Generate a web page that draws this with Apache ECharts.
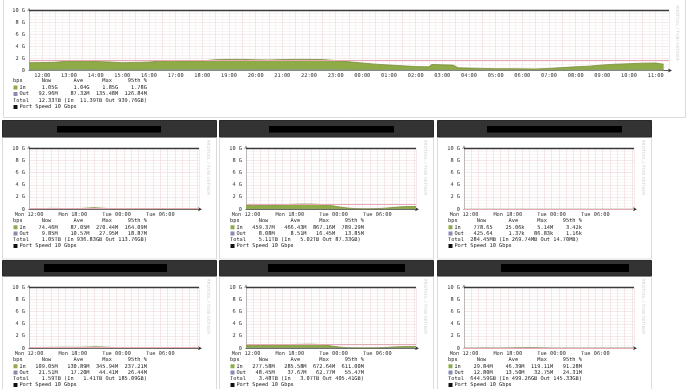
<!DOCTYPE html>
<html><head><meta charset="utf-8">
<script src="https://cdn.jsdelivr.net/npm/echarts@6/dist/echarts.min.js"></script>
<style>html,body{margin:0;padding:0;background:#fff}#c{width:690px;height:389px}</style>
</head><body><div id="c"></div>
<script>
// ---------- DATA ----------
const yTickLabels = ['0', '2 G', '4 G', '6 G', '8 G', '10 G'];
const bigTickHours = [12,13,14,15,16,17,18,19,20,21,22,23,24,25,26,27,28,29,30,31,32,33,34,35];
const smallTickHours = [12, 18, 24, 30];
const smallTickLabels = ['Mon 12:00', 'Mon 18:00', 'Tue 00:00', 'Tue 06:00'];

const bigHours = [11.5,12,12.5,13,13.5,14,14.5,15,15.5,16,16.5,17,17.5,18,18.5,19,19.5,20,20.5,21,21.5,22,22.5,23,23.5,24,24.5,25,25.5,26,26.5,26.6,27,27.4,27.6,28,28.5,29,29.5,30,30.5,31,31.5,32,32.5,33,33.5,34,34.5,35,35.3];
const bigIn = [1.30,1.32,1.37,1.60,1.60,1.50,1.42,1.30,1.35,1.40,1.60,1.65,1.60,1.60,1.80,1.85,1.85,1.78,1.75,1.82,1.85,1.85,1.82,1.65,1.45,1.25,1.05,0.92,0.78,0.65,0.62,1.00,0.95,0.90,0.45,0.40,0.35,0.30,0.30,0.28,0.25,0.35,0.48,0.62,0.72,0.92,1.05,1.13,1.22,1.25,1.05];
const bigOut = [0.09,0.09,0.10,0.11,0.11,0.10,0.10,0.09,0.09,0.10,0.11,0.12,0.11,0.11,0.12,0.13,0.13,0.12,0.12,0.12,0.13,0.13,0.12,0.11,0.10,0.09,0.08,0.08,0.07,0.07,0.07,0.08,0.08,0.08,0.06,0.05,0.05,0.05,0.05,0.05,0.05,0.05,0.06,0.07,0.07,0.08,0.09,0.09,0.10,0.10,0.09];
const bigInStats = ['1.05G', '1.04G', '1.85G', '1.78G'];
const bigOutStats = ['92.96M', '87.32M', '135.48M', '126.84M'];
const bigTotals = ['12.33TB', '11.39TB', '939.76GB'];
const bigP95 = 1.78;

const smallHours = [12,13,14,15,16,17,18,19,20,21,22,23,24,25,26,27,28,29,30,31,32,33,34,35,35.3];

const p1In  = [0.09,0.10,0.12,0.15,0.14,0.12,0.10,0.13,0.20,0.27,0.18,0.12,0.08,0.06,0.05,0.04,0.04,0.05,0.06,0.07,0.08,0.09,0.08,0.075,0.074];
const p1Out = [0.010,0.011,0.012,0.013,0.012,0.011,0.011,0.012,0.015,0.028,0.016,0.012,0.009,0.008,0.007,0.007,0.007,0.008,0.009,0.010,0.011,0.010,0.010,0.010,0.010];
const p1InStats = ['74.46M', '87.05M', '270.44M', '164.09M'];
const p1OutStats = ['9.85M', '10.57M', '27.95M', '18.87M'];
const p1Totals = ['1.05TB', '936.83GB', '113.76GB'];
const p1P95 = 0.164;

const p2In  = [0.62,0.60,0.63,0.66,0.70,0.75,0.80,0.84,0.86,0.85,0.80,0.72,0.55,0.35,0.20,0.12,0.10,0.10,0.12,0.18,0.28,0.38,0.45,0.46,0.46];
const p2Out = [0.008,0.008,0.009,0.009,0.010,0.011,0.012,0.014,0.016,0.015,0.012,0.010,0.008,0.007,0.006,0.006,0.006,0.006,0.007,0.007,0.008,0.008,0.008,0.008,0.008];
const p2InStats = ['459.37M', '466.43M', '867.16M', '789.29M'];
const p2OutStats = ['8.08M', '8.51M', '16.45M', '13.85M'];
const p2Totals = ['5.11TB', '5.02TB', '87.33GB'];
const p2P95 = 0.789;

const p3In  = [0.00002,0.00002,0.00003,0.00002,0.00002,0.00003,0.00002,0.00002,0.0051,0.00003,0.00002,0.00002,0.00002,0.00001,0.00001,0.00001,0.00001,0.00001,0.00001,0.00002,0.00002,0.00002,0.00001,0.000001,0.000001];
const p3Out = [0.000001,0.000001,0.000002,0.000001,0.000001,0.000002,0.000001,0.000001,0.00008,0.000002,0.000001,0.000001,0.000001,0.000001,0.000001,0.000001,0.000001,0.000001,0.000001,0.000001,0.000001,0.000001,0.000001,0.0000004,0.0000004];
const p3InStats = ['778.65', '25.06k', '5.14M', '3.42k'];
const p3OutStats = ['425.64', '1.37k', '86.83k', '1.16k'];
const p3Totals = ['284.45MB', '269.74MB', '14.70MB'];
const p3P95 = 0.0000034;

const p4In  = [0.12,0.13,0.14,0.15,0.16,0.17,0.16,0.17,0.20,0.24,0.22,0.16,0.11,0.08,0.07,0.06,0.07,0.08,0.09,0.10,0.11,0.12,0.11,0.11,0.109];
const p4Out = [0.018,0.019,0.020,0.021,0.022,0.024,0.022,0.023,0.026,0.030,0.028,0.020,0.014,0.011,0.010,0.010,0.011,0.012,0.014,0.016,0.018,0.020,0.021,0.021,0.021];
const p4InStats = ['109.05M', '130.89M', '345.94M', '237.21M'];
const p4OutStats = ['21.51M', '17.20M', '44.41M', '26.44M'];
const p4Totals = ['1.59TB', '1.41TB', '185.09GB'];
const p4P95 = 0.237;

const p5In  = [0.45,0.44,0.46,0.50,0.52,0.55,0.60,0.64,0.66,0.67,0.62,0.50,0.32,0.18,0.10,0.08,0.07,0.07,0.09,0.13,0.20,0.26,0.28,0.28,0.278];
const p5Out = [0.040,0.040,0.042,0.045,0.048,0.050,0.053,0.056,0.058,0.060,0.055,0.045,0.033,0.025,0.020,0.018,0.018,0.019,0.022,0.027,0.035,0.042,0.047,0.048,0.048];
const p5InStats = ['277.58M', '285.58M', '672.64M', '611.00M'];
const p5OutStats = ['48.45M', '37.67M', '62.77M', '55.47M'];
const p5Totals = ['3.48TB', '3.07TB', '405.41GB'];
const p5P95 = 0.611;

const p6In  = [0.04,0.04,0.05,0.06,0.05,0.05,0.06,0.07,0.09,0.11,0.08,0.06,0.04,0.03,0.03,0.03,0.03,0.03,0.03,0.03,0.03,0.03,0.03,0.03,0.03];
const p6Out = [0.012,0.012,0.013,0.015,0.014,0.014,0.015,0.016,0.020,0.030,0.018,0.014,0.012,0.011,0.011,0.011,0.011,0.011,0.012,0.012,0.012,0.013,0.013,0.013,0.013];
const p6InStats = ['29.84M', '46.39M', '119.11M', '91.28M'];
const p6OutStats = ['12.80M', '13.50M', '32.75M', '24.31M'];
const p6Totals = ['644.59GB', '499.26GB', '145.33GB'];
const p6P95 = 0.0913;

// ---------- LAYOUT / STYLE ----------
const MONO = 'DejaVu Sans Mono';
const FS = 5.3;
const GREEN = '#8fab48', GREEN_EDGE = '#7c8a3a', OUTC = '#8a8ab4', PINK = '#e6a9b6';

const panels = [
  {px: 2,   row: 0, hours: smallHours, inD: p1In, outD: p1Out, inS: p1InStats, outS: p1OutStats, tot: p1Totals, p95: p1P95, red: [57, 161]},
  {px: 219, row: 0, hours: smallHours, inD: p2In, outD: p2Out, inS: p2InStats, outS: p2OutStats, tot: p2Totals, p95: p2P95, red: [269, 394]},
  {px: 437, row: 0, hours: smallHours, inD: p3In, outD: p3Out, inS: p3InStats, outS: p3OutStats, tot: p3Totals, p95: p3P95, red: [487, 622]},
  {px: 2,   row: 1, hours: smallHours, inD: p4In, outD: p4Out, inS: p4InStats, outS: p4OutStats, tot: p4Totals, p95: p4P95, red: [44, 167]},
  {px: 219, row: 1, hours: smallHours, inD: p5In, outD: p5Out, inS: p5InStats, outS: p5OutStats, tot: p5Totals, p95: p5P95, red: [268, 405]},
  {px: 437, row: 1, hours: smallHours, inD: p6In, outD: p6Out, inS: p6InStats, outS: p6OutStats, tot: p6Totals, p95: p6P95, red: [501, 629]}
];
const rowHeaderY = [120.5, 260.5], rowHeaderH = [16.5, 15.5];
const rowRedY = [126, 264], rowRedH = [6.5, 8];
const rowGridTop = [148.3, 287.3];
const rowLegendY = [221, 360];

function pairs(h, v) { return h.map((x, i) => [x, v[i]]); }
function pad2(n) { return String(n).padStart(2, '0'); }

function headerLine() { return 'bps      Now       Ave      Max     95th %'; }
function statLine(label, s) {
  return '  ' + label.padEnd(3) + s[0].padStart(9) + s[1].padStart(10) + s[2].padStart(9) + s[3].padStart(9);
}
function totalLine(t) {
  return 'Total' + t[0].padStart(10) + ' (In' + t[1].padStart(9) + ' Out ' + t[2] + ')';
}

const grids = [], xAxes = [], yAxes = [], series = [], graphics = [];

function splitY() {
  return {
    type: 'value', min: 0, max: 10, interval: 2,
    axisLabel: {fontFamily: MONO, fontSize: FS, color: '#333', margin: 4,
      formatter: v => yTickLabels[Math.round(v / 2)]},
    axisTick: {show: false},
    axisLine: {show: true, lineStyle: {color: '#999', width: 0.6}, symbol: ['none', 'arrow'], symbolSize: [3, 4], symbolOffset: [0, 3]},
    splitLine: {show: true, lineStyle: {color: '#efd8dc', width: 0.6}},
    minorTick: {show: false, splitNumber: 4},
    minorSplitLine: {show: true, lineStyle: {color: '#f3eaea', width: 0.5}}
  };
}

function addGraph(gi, grid, xMin, xMax, xInterval, xMinorSplit, tickVals, fmt, hours, inD, outD, p95) {
  grids.push(grid);
  xAxes.push({
    type: 'value', gridIndex: gi, min: xMin, max: xMax, interval: xInterval,
    axisLabel: {customValues: tickVals, formatter: fmt, fontFamily: MONO, fontSize: FS, color: '#333', margin: 3, hideOverlap: false},
    axisTick: {show: false},
    axisLine: {show: true, lineStyle: {color: '#333', width: 0.8}, symbol: ['none', 'arrow'], symbolSize: [3, 4], symbolOffset: [0, 3]},
    splitLine: {show: true, lineStyle: {color: '#efd8dc', width: 0.6}},
    minorTick: {show: false, splitNumber: xMinorSplit},
    minorSplitLine: {show: xMinorSplit > 1, lineStyle: {color: '#f3eaea', width: 0.5}}
  });
  const y = splitY(); y.gridIndex = gi; yAxes.push(y);
  series.push({
    type: 'line', xAxisIndex: gi, yAxisIndex: gi, data: pairs(hours, inD), symbol: 'none',
    lineStyle: {color: GREEN_EDGE, width: 0.8}, areaStyle: {color: GREEN, opacity: 1}, z: 3,
    markLine: {silent: true, symbol: 'none', label: {show: false}, animation: false,
      data: [
        {yAxis: p95, lineStyle: {color: PINK, width: 1.1, type: 'solid'}},
        {yAxis: 10, lineStyle: {color: '#3a3a3a', width: 1.3, type: 'solid'}}
      ]}
  });
  series.push({
    type: 'line', xAxisIndex: gi, yAxisIndex: gi, data: pairs(hours, outD), symbol: 'none',
    lineStyle: {color: OUTC, width: 0.5}, areaStyle: {color: '#a0a0c8', opacity: 1}, z: 4
  });
}

function addLegend(x, y0, dy, inS, outS, tot) {
  const lines = [headerLine(), statLine('In', inS), statLine('Out', outS), totalLine(tot), '  Port Speed 10 Gbps'];
  const sq = [null, GREEN, OUTC, null, '#111'];
  lines.forEach((t, i) => {
    const y = y0 + i * dy;
    graphics.push({type: 'text', x: x, y: y, z: 10,
      style: {text: t, fill: '#222', fontFamily: MONO, fontSize: FS, verticalAlign: 'middle', align: 'left'}});
    if (sq[i]) graphics.push({type: 'rect', x: x + 0.5, y: y - 2, z: 10, shape: {width: 4, height: 4}, style: {fill: sq[i]}});
  });
}

function addWatermark(x, yc) {
  graphics.push({type: 'text', x: x, y: yc, rotation: -Math.PI / 2, z: 10,
    style: {text: 'RRDTOOL / TOBI OETIKER', fill: '#cfcfcf', fontFamily: 'DejaVu Sans', fontSize: 4.3, align: 'center', verticalAlign: 'middle'}});
}

// ---- big top panel ----
graphics.push({type: 'rect', x: 3.5, y: -4, z: -5, shape: {width: 682, height: 121.5}, style: {fill: '#fff', stroke: '#dcdcdc', lineWidth: 1}});
addGraph(0, {left: 29, top: 10.5, width: 640, height: 60}, 11.5, 35.5, 0.5, 2, bigTickHours,
  v => pad2(v % 24) + ':00', bigHours, bigIn, bigOut, bigP95);
addLegend(13, 81, 6.5, bigInStats, bigOutStats, bigTotals);
addWatermark(677, 33);

// ---- six small panels ----
panels.forEach((p, k) => {
  const r = p.row;
  const hy = rowHeaderY[r];
  graphics.push({type: 'rect', x: p.px + 0.5, y: hy, z: -4, shape: {width: 214, height: rowHeaderH[r]}, style: {fill: '#333', stroke: '#2a2a2a', lineWidth: 1}});
  graphics.push({type: 'rect', x: p.px + 0.5, y: hy + rowHeaderH[r], z: -5, shape: {width: 214, height: 122}, style: {fill: '#fff', stroke: '#dcdcdc', lineWidth: 1}});
  graphics.push({type: 'rect', x: p.red[0], y: rowRedY[r], z: -3, shape: {width: p.red[1] - p.red[0], height: rowRedH[r]}, style: {fill: '#000'}});
  const gi = k + 1;
  addGraph(gi, {left: p.px + 27, top: rowGridTop[r], width: 170, height: 61}, 12, 35.3, 1, 1, smallTickHours,
    v => smallTickLabels[smallTickHours.indexOf(v)], p.hours, p.inD, p.outD, p.p95);
  addLegend(p.px + 11, rowLegendY[r], 6.25, p.inS, p.outS, p.tot);
  addWatermark(p.px + 206, rowGridTop[r] + 19);
});

const chart = echarts.init(document.getElementById('c'), null, {renderer: 'canvas'});
chart.setOption({
  animation: false,
  backgroundColor: '#fff',
  grid: grids, xAxis: xAxes, yAxis: yAxes, series: series, graphic: graphics
});
</script>
</body></html>
